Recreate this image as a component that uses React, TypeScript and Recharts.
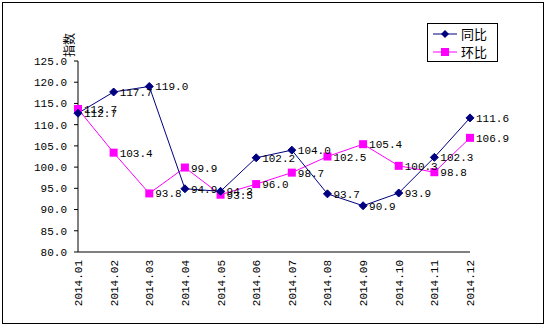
import { ComposedChart, Line, XAxis, YAxis, LabelList } from 'recharts'

const months = [
  '2014.01', '2014.02', '2014.03', '2014.04', '2014.05', '2014.06',
  '2014.07', '2014.08', '2014.09', '2014.10', '2014.11', '2014.12',
]
// 同比
const yoy = [112.7, 117.7, 119.0, 94.9, 94.3, 102.2, 104.0, 93.7, 90.9, 93.9, 102.3, 111.6]
// 环比
const mom = [113.7, 103.4, 93.8, 99.9, 93.5, 96.0, 98.7, 102.5, 105.4, 100.3, 98.8, 106.9]
const yTicks = [80, 85, 90, 95, 100, 105, 110, 115, 120, 125]
const boundaryTicks = [0, 1, 2, 3, 4, 5, 6, 7, 8, 9, 10, 11, 12]

const chartData = months.map((m, i) => ({ month: m, yoy: yoy[i], mom: mom[i] }))

const MONO = '"Liberation Mono", "DejaVu Sans Mono", monospace'
const CJK = '"Noto Sans CJK SC", sans-serif'
const NAVY = '#000080'
const MAGENTA = '#FF00FF'

function Diamond(props: any) {
  const { cx, cy } = props
  if (cx == null || cy == null) return null
  return (
    <polygon
      key={props.key}
      points={`${cx},${cy - 4} ${cx + 4},${cy} ${cx},${cy + 4} ${cx - 4},${cy}`}
      fill={NAVY}
      stroke={NAVY}
    />
  )
}

function Square(props: any) {
  const { cx, cy } = props
  if (cx == null || cy == null) return null
  return <rect key={props.key} x={cx - 4} y={cy - 4} width={8} height={8} fill={MAGENTA} />
}

function ValueLabel(props: any) {
  const x = props.x ?? props.viewBox?.x
  const y = props.y ?? props.viewBox?.y
  if (x == null || y == null) return null
  return (
    <text x={x + 6} y={y + 4} fontSize={11} fontFamily={MONO} fill="#000">
      {Number(props.value).toFixed(1)}
    </text>
  )
}

function MonthTick(props: any) {
  const { x, y, payload } = props
  return (
    <g transform={`translate(${x},${y})`}>
      <text transform="rotate(-90)" textAnchor="end" dy={4} fontSize={11} fontFamily={MONO} fill="#000">
        {payload.value}
      </text>
    </g>
  )
}

function LegendBox() {
  const row = (name: string, color: string, square: boolean) => (
    <div style={{ display: 'flex', alignItems: 'center', height: 18, overflow: 'hidden' }}>
      <svg width={26} height={14} style={{ marginLeft: 4 }}>
        <line x1={1} y1={7} x2={25} y2={7} stroke={color} strokeWidth={1} />
        {square ? (
          <rect x={9} y={3} width={8} height={8} fill={color} />
        ) : (
          <polygon points="13,3 17,7 13,11 9,7" fill={color} />
        )}
      </svg>
      <span style={{ fontFamily: CJK, fontSize: 13, lineHeight: '16px', marginLeft: 3, color: '#000' }}>{name}</span>
    </div>
  )
  return (
    <div
      style={{
        position: 'absolute',
        left: 427,
        top: 23,
        width: 71,
        height: 39,
        boxSizing: 'border-box',
        border: '1px solid #000',
        background: '#fff',
        paddingTop: 1,
      }}
    >
      {row('同比', NAVY, false)}
      {row('环比', MAGENTA, true)}
    </div>
  )
}

export default function App() {
  return (
    <div style={{ position: 'fixed', left: 0, top: 0, width: 545, height: 325, background: '#fff' }}>
      <div
        style={{
          position: 'absolute',
          left: 2,
          top: 2,
          width: 542,
          height: 322,
          boxSizing: 'border-box',
          border: '1px solid #000',
        }}
      />
      <ComposedChart
        width={545}
        height={325}
        data={chartData}
        margin={{ top: 61, right: 75, bottom: 13, left: 0 }}
      >
        <XAxis
          dataKey="month"
          height={60}
          interval={0}
          tickLine={false}
          axisLine={{ stroke: '#000' }}
          tick={<MonthTick />}
        />
        {/* boundary ticks between months, pointing up into the plot */}
        <XAxis
          xAxisId="bounds"
          type="number"
          domain={[0, 12]}
          ticks={boundaryTicks}
          allowDataOverflow
          mirror
          height={1}
          tick={false}
          tickSize={5}
          axisLine={false}
          tickLine={{ stroke: '#000' }}
        />
        <YAxis
          width={78}
          domain={[80, 125]}
          ticks={yTicks}
          interval={0}
          tickSize={4}
          tickMargin={7}
          tickFormatter={(v: number) => v.toFixed(1)}
          tick={{ fontSize: 11, fontFamily: MONO, fill: '#000' }}
          axisLine={{ stroke: '#000' }}
          tickLine={{ stroke: '#000' }}
        />
        <Line
          dataKey="mom"
          name="环比"
          type="linear"
          stroke={MAGENTA}
          strokeWidth={1}
          dot={<Square />}
          activeDot={false}
          isAnimationActive={false}
        >
          <LabelList dataKey="mom" content={<ValueLabel />} />
        </Line>
        <Line
          dataKey="yoy"
          name="同比"
          type="linear"
          stroke={NAVY}
          strokeWidth={1}
          dot={<Diamond />}
          activeDot={false}
          isAnimationActive={false}
        >
          <LabelList dataKey="yoy" content={<ValueLabel />} />
        </Line>
        <text
          x={68}
          y={45}
          transform="rotate(-90 68 45)"
          textAnchor="middle"
          dominantBaseline="central"
          fontSize={12}
          fontFamily={CJK}
          fill="#000"
        >
          指数
        </text>
      </ComposedChart>
      <LegendBox />
    </div>
  )
}
